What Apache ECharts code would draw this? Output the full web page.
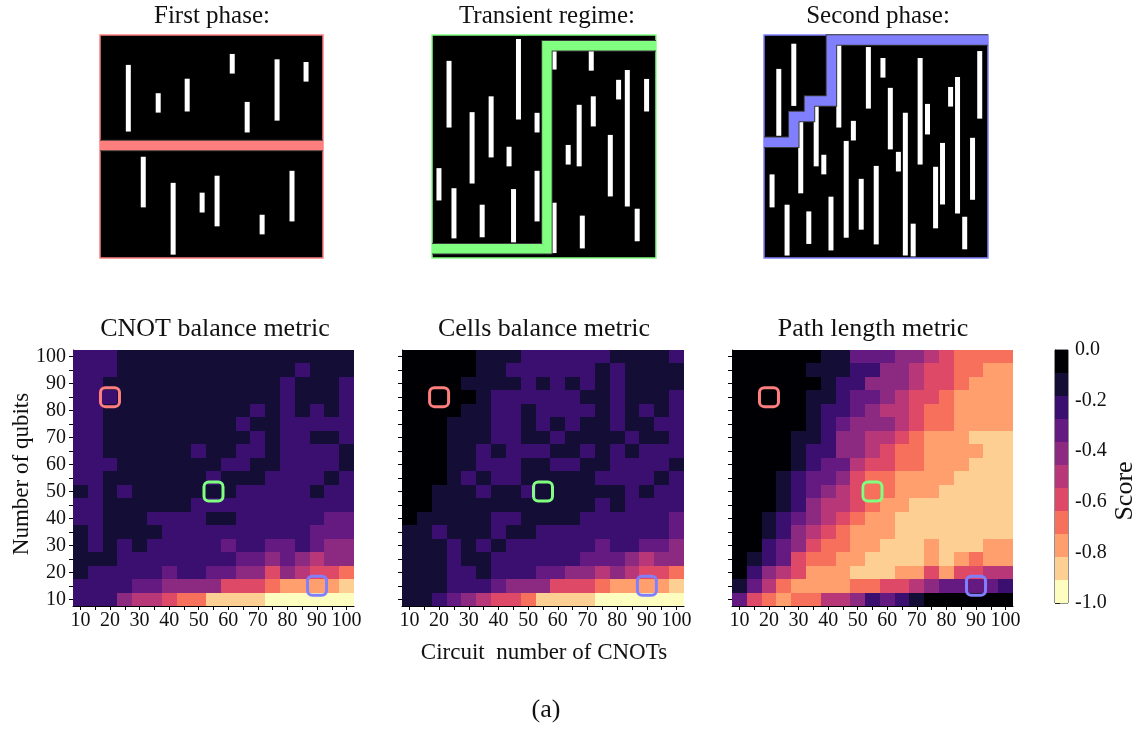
<!DOCTYPE html>
<html>
<head>
<meta charset="utf-8">
<script src="https://cdn.jsdelivr.net/npm/echarts@6/dist/echarts.min.js"></script>
<style>html,body{margin:0;padding:0;background:#fff}#c{width:1141px;height:731px}</style>
</head>
<body>
<div id="c"></div>
<script>
// ---------- DATA ----------
const circuits = ['10','15','20','25','30','35','40','45','50','55','60','65','70','75','80','85','90','95','100'];
const qubits = ['10','15','20','25','30','35','40','45','50','55','60','65','70','75','80','85','90','95','100'];

// Scores; rows listed from 100 qubits (top) down to 10 qubits (bottom), columns = circuits
const cnotBalance = [
[-.23,-.23,-.23,-.14,-.14,-.14,-.14,-.14,-.14,-.14,-.14,-.14,-.14,-.14,-.14,-.14,-.14,-.14,-.14],
[-.23,-.23,-.23,-.14,-.14,-.14,-.14,-.14,-.14,-.14,-.14,-.14,-.14,-.14,-.14,-.23,-.14,-.14,-.14],
[-.23,-.23,-.14,-.14,-.14,-.14,-.14,-.14,-.14,-.14,-.14,-.14,-.14,-.14,-.23,-.14,-.14,-.14,-.23],
[-.23,-.23,-.23,-.14,-.14,-.14,-.14,-.14,-.14,-.14,-.14,-.14,-.14,-.14,-.23,-.14,-.14,-.14,-.23],
[-.23,-.23,-.14,-.14,-.14,-.14,-.14,-.14,-.14,-.14,-.14,-.14,-.23,-.14,-.23,-.14,-.23,-.14,-.23],
[-.23,-.23,-.14,-.14,-.14,-.14,-.14,-.14,-.14,-.14,-.14,-.23,-.14,-.14,-.23,-.23,-.23,-.23,-.23],
[-.23,-.23,-.14,-.14,-.14,-.14,-.14,-.14,-.14,-.14,-.14,-.14,-.23,-.14,-.23,-.23,-.14,-.14,-.23],
[-.23,-.23,-.14,-.14,-.14,-.14,-.14,-.14,-.23,-.14,-.14,-.23,-.23,-.14,-.23,-.23,-.23,-.23,-.14],
[-.23,-.23,-.23,-.14,-.14,-.14,-.14,-.14,-.14,-.14,-.23,-.23,-.14,-.14,-.23,-.23,-.23,-.23,-.14],
[-.23,-.23,-.14,-.14,-.14,-.14,-.14,-.14,-.14,-.23,-.14,-.14,-.14,-.23,-.23,-.23,-.23,-.14,-.23],
[-.14,-.23,-.14,-.23,-.14,-.14,-.14,-.14,-.14,-.14,-.14,-.23,-.23,-.23,-.23,-.23,-.14,-.23,-.23],
[-.23,-.23,-.14,-.14,-.14,-.14,-.14,-.14,-.23,-.23,-.23,-.23,-.23,-.23,-.23,-.23,-.23,-.23,-.23],
[-.23,-.23,-.14,-.14,-.14,-.23,-.23,-.23,-.23,-.14,-.14,-.23,-.23,-.23,-.23,-.23,-.23,-.32,-.32],
[-.14,-.23,-.14,-.14,-.14,-.14,-.23,-.23,-.23,-.23,-.23,-.23,-.23,-.23,-.23,-.23,-.32,-.32,-.32],
[-.14,-.23,-.14,-.23,-.14,-.23,-.23,-.23,-.23,-.23,-.32,-.23,-.23,-.32,-.32,-.23,-.32,-.41,-.41],
[-.14,-.14,-.14,-.23,-.23,-.23,-.23,-.23,-.23,-.23,-.23,-.32,-.32,-.41,-.32,-.41,-.50,-.41,-.41],
[-.14,-.23,-.23,-.23,-.23,-.23,-.32,-.23,-.23,-.32,-.32,-.41,-.41,-.59,-.41,-.50,-.59,-.59,-.68],
[-.23,-.23,-.23,-.23,-.32,-.32,-.41,-.41,-.41,-.41,-.59,-.59,-.59,-.68,-.77,-.77,-.77,-.77,-.86],
[-.23,-.23,-.23,-.41,-.50,-.50,-.59,-.68,-.68,-.86,-.86,-.86,-.86,-.95,-.95,-.95,-.95,-.95,-.95]
];
const cellsBalance = [
[-.05,-.05,-.05,-.05,-.05,-.14,-.14,-.14,-.23,-.23,-.23,-.23,-.23,-.23,-.14,-.14,-.14,-.14,-.23],
[-.05,-.05,-.05,-.05,-.05,-.14,-.14,-.23,-.23,-.23,-.23,-.23,-.23,-.14,-.23,-.14,-.14,-.14,-.14],
[-.05,-.05,-.05,-.05,-.14,-.14,-.14,-.14,-.23,-.14,-.23,-.14,-.23,-.14,-.23,-.14,-.14,-.14,-.14],
[-.05,-.05,-.05,-.05,-.05,-.14,-.23,-.23,-.23,-.23,-.23,-.23,-.14,-.14,-.23,-.14,-.14,-.14,-.23],
[-.05,-.05,-.05,-.05,-.14,-.14,-.23,-.23,-.14,-.23,-.23,-.23,-.23,-.14,-.23,-.14,-.23,-.14,-.23],
[-.05,-.05,-.05,-.14,-.14,-.14,-.23,-.23,-.14,-.23,-.14,-.23,-.14,-.14,-.23,-.14,-.14,-.23,-.23],
[-.05,-.05,-.05,-.14,-.14,-.14,-.23,-.23,-.14,-.14,-.23,-.14,-.14,-.14,-.14,-.23,-.14,-.14,-.23],
[-.05,-.05,-.05,-.14,-.14,-.23,-.14,-.23,-.23,-.23,-.14,-.14,-.23,-.14,-.23,-.14,-.23,-.23,-.23],
[-.05,-.05,-.05,-.14,-.14,-.23,-.23,-.23,-.14,-.14,-.23,-.23,-.14,-.14,-.23,-.23,-.23,-.23,-.14],
[-.05,-.05,-.05,-.14,-.23,-.14,-.23,-.23,-.14,-.14,-.14,-.14,-.14,-.23,-.23,-.23,-.23,-.14,-.23],
[-.05,-.05,-.14,-.14,-.14,-.23,-.14,-.14,-.23,-.14,-.14,-.14,-.14,-.14,-.14,-.23,-.14,-.23,-.23],
[-.05,-.05,-.14,-.14,-.14,-.14,-.14,-.14,-.14,-.14,-.14,-.14,-.14,-.23,-.14,-.23,-.23,-.23,-.23],
[-.05,-.14,-.14,-.14,-.14,-.14,-.23,-.23,-.14,-.14,-.14,-.14,-.23,-.23,-.23,-.23,-.23,-.23,-.32],
[-.14,-.14,-.23,-.14,-.14,-.14,-.23,-.14,-.14,-.23,-.23,-.23,-.23,-.23,-.23,-.23,-.23,-.23,-.32],
[-.14,-.14,-.14,-.23,-.14,-.23,-.14,-.23,-.23,-.23,-.23,-.23,-.23,-.32,-.23,-.23,-.32,-.32,-.41],
[-.14,-.14,-.14,-.23,-.14,-.14,-.23,-.23,-.23,-.23,-.23,-.23,-.32,-.32,-.32,-.41,-.50,-.41,-.41],
[-.14,-.14,-.14,-.23,-.23,-.14,-.23,-.23,-.23,-.32,-.32,-.41,-.41,-.50,-.41,-.50,-.59,-.59,-.68],
[-.14,-.14,-.14,-.23,-.23,-.23,-.32,-.41,-.41,-.41,-.59,-.59,-.59,-.68,-.77,-.77,-.77,-.77,-.86],
[-.14,-.14,-.23,-.32,-.41,-.50,-.59,-.59,-.68,-.86,-.86,-.86,-.86,-.95,-.95,-.95,-.95,-.95,-.95]
];
const pathLength = [
[-.05,-.05,-.05,-.05,-.05,-.05,-.14,-.14,-.32,-.32,-.32,-.41,-.41,-.50,-.59,-.68,-.68,-.68,-.68],
[-.05,-.05,-.05,-.05,-.05,-.14,-.14,-.14,-.23,-.23,-.41,-.41,-.50,-.59,-.59,-.68,-.68,-.77,-.77],
[-.05,-.05,-.05,-.05,-.05,-.05,-.14,-.23,-.23,-.41,-.41,-.41,-.50,-.59,-.59,-.68,-.77,-.77,-.77],
[-.05,-.05,-.05,-.05,-.05,-.14,-.14,-.23,-.32,-.32,-.41,-.50,-.59,-.59,-.68,-.77,-.77,-.77,-.77],
[-.05,-.05,-.05,-.05,-.05,-.14,-.23,-.23,-.32,-.41,-.50,-.50,-.59,-.68,-.68,-.77,-.77,-.77,-.77],
[-.05,-.05,-.05,-.05,-.05,-.14,-.23,-.32,-.41,-.41,-.41,-.50,-.59,-.68,-.68,-.77,-.77,-.77,-.77],
[-.05,-.05,-.05,-.05,-.14,-.14,-.23,-.41,-.41,-.50,-.50,-.59,-.68,-.77,-.77,-.77,-.86,-.86,-.86],
[-.05,-.05,-.05,-.05,-.14,-.23,-.23,-.41,-.41,-.50,-.59,-.68,-.68,-.77,-.77,-.77,-.77,-.86,-.86],
[-.05,-.05,-.05,-.05,-.14,-.23,-.32,-.32,-.50,-.59,-.59,-.68,-.68,-.77,-.77,-.77,-.86,-.86,-.86],
[-.05,-.05,-.05,-.14,-.23,-.32,-.32,-.41,-.59,-.68,-.68,-.77,-.77,-.77,-.77,-.86,-.86,-.86,-.86],
[-.05,-.05,-.05,-.14,-.23,-.32,-.41,-.50,-.59,-.68,-.68,-.77,-.77,-.77,-.86,-.86,-.86,-.86,-.86],
[-.05,-.05,-.05,-.14,-.23,-.41,-.50,-.50,-.59,-.68,-.77,-.77,-.86,-.86,-.86,-.86,-.86,-.86,-.86],
[-.05,-.05,-.14,-.23,-.32,-.41,-.50,-.59,-.68,-.77,-.77,-.86,-.86,-.86,-.86,-.86,-.86,-.86,-.86],
[-.05,-.05,-.14,-.23,-.41,-.50,-.59,-.68,-.77,-.77,-.77,-.86,-.86,-.86,-.86,-.86,-.86,-.86,-.86],
[-.05,-.05,-.23,-.32,-.41,-.59,-.68,-.68,-.77,-.77,-.86,-.86,-.86,-.77,-.86,-.86,-.86,-.77,-.77],
[-.05,-.14,-.23,-.32,-.59,-.68,-.68,-.77,-.77,-.86,-.86,-.86,-.86,-.77,-.86,-.77,-.68,-.77,-.77],
[-.05,-.23,-.41,-.50,-.59,-.77,-.77,-.77,-.86,-.86,-.86,-.77,-.77,-.59,-.77,-.59,-.59,-.50,-.50],
[-.14,-.32,-.50,-.68,-.77,-.77,-.77,-.77,-.68,-.68,-.59,-.59,-.50,-.41,-.32,-.32,-.32,-.32,-.23],
[-.32,-.59,-.68,-.77,-.68,-.68,-.50,-.50,-.41,-.23,-.32,-.23,-.14,-.05,-.05,-.05,-.05,-.05,-.05]
];
const heatTitles = ['CNOT balance metric','Cells balance metric','Path length metric'];

// Highlighted cells (circuit, qubits)
const markerCircuits = ['20','55','90'];
const markerQubits = ['85','50','15'];

// Colour scale: bin edges of the score (0 .. -1)
const binEdges = [0,-0.0909,-0.1818,-0.2727,-0.3636,-0.4545,-0.5455,-0.6364,-0.7273,-0.8182,-0.9091,-1];

// Top panels: vertical gate bars [x, yTop, yBottom] in panel units (0..100, y from top)
const phaseTitles = ['First phase:','Transient regime:','Second phase:'];
const firstBars = [
[12.7,13.4,43.3],[26.1,26.1,34.8],[39.1,19.6,34.3],[59.3,8.5,17.3],[66.0,30.0,43.7],[79.4,10.9,38.4],[92.4,12.1,20.9],
[19.4,54.6,77.3],[32.8,66.3,98.5],[45.8,70.7,79.6],[52.5,63.1,85.8],[72.7,80.6,89.4],[86.1,60.9,83.6]
];
const transientBars = [
[7.6,11.6,41.5],[3.1,59.7,74.2],[9.8,68.7,91.2],[17.9,34.6,66.6],[22.4,76.1,90.7],[26.4,27.5,54.9],[34.4,50.1,58.9],
[36.4,69.1,93.0],[38.6,1.8,37.9],[46.9,34.9,43.7],[46.9,60.9,83.6],[54.5,7.0,15.5],[54.5,75.2,97.8],[71.1,7.0,16.0],
[60.8,49.3,58.1],[65.7,31.3,58.9],[72.0,27.5,41.0],[67.1,81.0,95.7],[79.6,44.8,72.4],[83.3,20.1,28.9],[87.2,15.7,76.9],
[95.8,19.7,34.3],[91.6,77.9,92.5]
];
const secondBars = [
[6.6,15.2,45.2],[13.3,3.9,31.8],[3.6,62.5,77.3],[10.3,76.1,98.9],[16.4,39.0,71.0],[20.0,79.1,93.7],[23.3,31.8,58.9],
[26.7,53.7,62.5],[29.9,72.5,96.6],[33.4,4.5,41.5],[36.7,47.5,90.9],[39.9,38.5,47.3],[43.4,64.5,87.3],[46.6,5.4,33.0],
[50.1,58.7,93.9],[53.1,10.3,19.1],[56.4,23.7,51.3],[60.0,52.4,61.2],[63.1,34.9,98.9],[66.6,84.6,99.3],[69.7,10.3,58.1],
[73.0,30.9,44.6],[76.6,59.1,86.7],[79.7,48.4,76.0],[83.3,23.3,32.1],[86.4,18.8,80.0],[89.6,81.5,96.1],[93.1,46.1,73.9],
[96.3,7.2,37.5]
];
// Cut paths [x, y] in panel units
const firstPath = [[0,49.5],[100,49.5]];
const transientPath = [[0,95.8],[51.3,95.8],[51.3,4.8],[100,4.8]];
const secondPath = [[0,48.1],[13.3,48.1],[13.3,36.6],[20.3,36.6],[20.3,29.6],[30.1,29.6],[30.1,2.2],[100,2.2]];

// ---------- STYLE / LAYOUT ----------
const FONT = '"Liberation Serif","Times New Roman",serif';
const magma = ['#000004','#140e36','#3b0f70','#641a80','#8c2981','#b73779','#de4968','#f7705c','#fe9f6d','#fecf92','#fcfdbf'];
const markerColors = ['#ff7f7f','#80ff80','#8080ff'];
const heatGrids = [
  {left:73, top:350, width:281, height:256},
  {left:402, top:350, width:282, height:256},
  {left:732, top:350, width:281, height:256}
];
const topGrids = [
  {left:100, top:35, width:223, height:223},
  {left:432, top:35, width:224, height:223},
  {left:764, top:35, width:224, height:223}
];
const cbGrid = {left:1055, top:350, width:13, height:253};

const chart = echarts.init(document.getElementById('c'), null, {renderer:'canvas'});

const grids = [], xAxes = [], yAxes = [], series = [], graphics = [];

const heatData = [cnotBalance, cellsBalance, pathLength];
heatData.forEach((mat, k) => {
  grids.push(Object.assign({containLabel:false}, heatGrids[k]));
  xAxes.push({
    type:'category', gridIndex:k, data:circuits,
    axisLine:{show:true, lineStyle:{color:'#000', width:1}},
    axisTick:{show:true, interval:0, alignWithLabel:true, length:4, lineStyle:{color:'#000'}},
    axisLabel:{interval:1, margin:5, color:'#111', fontFamily:FONT, fontSize:20},
    splitLine:{show:false}
  });
  yAxes.push({
    type:'category', gridIndex:k, data:qubits,
    axisLine:{show:true, lineStyle:{color:'#000', width:1}},
    axisTick:{show:true, interval:0, alignWithLabel:true, length:4, lineStyle:{color:'#000'}},
    axisLabel:{show:k===0, interval:1, margin:7, color:'#111', fontFamily:FONT, fontSize:20},
    splitLine:{show:false}
  });
  const data = [];
  mat.forEach((row, r) => {
    const yi = qubits.length - 1 - r;
    row.forEach((v, c) => data.push([c, yi, v]));
  });
  series.push({
    type:'custom', xAxisIndex:k, yAxisIndex:k, data:data, silent:true, encode:{x:0, y:1},
    renderItem:(params, api) => {
      const c = api.coord([api.value(0), api.value(1)]);
      const s = api.size([1, 1]);
      const x0 = Math.round(c[0] - s[0]/2), x1 = Math.round(c[0] + s[0]/2);
      const y0 = Math.round(c[1] - s[1]/2), y1 = Math.round(c[1] + s[1]/2);
      return {type:'rect', shape:{x:x0, y:y0, width:x1-x0, height:y1-y0}, style:{fill:api.visual('color')}};
    }
  });
});

// markers
heatData.forEach((mat, k) => {
  series.push({
    type:'scatter', xAxisIndex:k, yAxisIndex:k, symbol:'roundRect', symbolSize:19, silent:true, z:5,
    data: markerCircuits.map((c, i) => ({value:[c, markerQubits[i]], itemStyle:{color:'rgba(0,0,0,0)', opacity:1, borderColor:markerColors[i], borderWidth:3}}))
  });
});

// colour bar
grids.push(Object.assign({show:true, borderColor:'#222', borderWidth:1, backgroundColor:'transparent'}, cbGrid));
xAxes.push({type:'value', gridIndex:3, min:0, max:1, show:false});
yAxes.push({
  type:'value', gridIndex:3, min:-1, max:0, interval:0.2, position:'right',
  axisLine:{show:true, lineStyle:{color:'#222'}},
  axisTick:{show:true, length:5, lineStyle:{color:'#222'}},
  axisLabel:{margin:7, color:'#111', fontFamily:FONT, fontSize:20, formatter:v => v.toFixed(1)},
  splitLine:{show:false}
});
series.push({
  type:'custom', xAxisIndex:3, yAxisIndex:3, silent:true,
  data: magma.map((col, i) => [i, binEdges[i+1], binEdges[i]]),
  encode:{x:0, y:[1,2]},
  renderItem:(params, api) => {
    const i = api.value(0);
    const p0 = api.coord([0, api.value(2)]);
    const p1 = api.coord([1, api.value(1)]);
    const y0 = Math.round(p0[1]), y1 = Math.round(p1[1]);
    return {type:'rect', shape:{x:p0[0], y:y0, width:p1[0]-p0[0], height:y1-y0}, style:{fill:magma[i]}};
  }
});

// top panels
const barsSets = [firstBars, transientBars, secondBars];
const paths = [firstPath, transientPath, secondPath];
barsSets.forEach((bars, k) => {
  const gi = 4 + k;
  grids.push(Object.assign({show:true, backgroundColor:'#000', borderColor:markerColors[k], borderWidth:1.5}, topGrids[k]));
  xAxes.push({type:'value', gridIndex:gi, min:0, max:100, show:false});
  yAxes.push({type:'value', gridIndex:gi, min:0, max:100, inverse:true, show:false});
  series.push({
    type:'custom', xAxisIndex:gi, yAxisIndex:gi, silent:true, data:bars, encode:{x:0, y:[1,2]},
    renderItem:(params, api) => {
      const p0 = api.coord([api.value(0), api.value(1)]);
      const p1 = api.coord([api.value(0), api.value(2)]);
      return {type:'rect', shape:{x:p0[0]-2.5, y:p0[1], width:5, height:p1[1]-p0[1]}, style:{fill:'#fff'}};
    }
  });
  series.push({
    type:'line', xAxisIndex:gi, yAxisIndex:gi, data:paths[k], showSymbol:false, silent:true, z:3,
    lineStyle:{color:'#3a3a3a', width:11.5, join:'miter', cap:'butt'}, animation:false
  });
  series.push({
    type:'line', xAxisIndex:gi, yAxisIndex:gi, data:paths[k], showSymbol:false, silent:true, z:4,
    lineStyle:{color:markerColors[k], width:9.5, join:'miter', cap:'butt'}, animation:false
  });
});

// texts
const phaseCenters = [212, 547, 878];
phaseTitles.forEach((t, k) => graphics.push({type:'text', x:phaseCenters[k], y:16, style:{text:t, textAlign:'center', textVerticalAlign:'middle', font:'25px ' + FONT, fill:'#111'}}));
const heatCenters = [215, 544, 873];
heatTitles.forEach((t, k) => graphics.push({type:'text', x:heatCenters[k], y:329, style:{text:t, textAlign:'center', textVerticalAlign:'middle', font:'26px ' + FONT, fill:'#111'}}));
graphics.push({type:'text', x:22, y:474, rotation:Math.PI/2, style:{text:'Number of qubits', textAlign:'center', textVerticalAlign:'middle', font:'23px ' + FONT, fill:'#111'}});
graphics.push({type:'text', x:544, y:653, style:{text:'Circuit  number of CNOTs', textAlign:'center', textVerticalAlign:'middle', font:'23px ' + FONT, fill:'#111'}});
graphics.push({type:'text', x:546, y:710, style:{text:'(a)', textAlign:'center', textVerticalAlign:'middle', font:'26px ' + FONT, fill:'#111'}});
graphics.push({type:'text', x:1125, y:491, rotation:Math.PI/2, style:{text:'Score', textAlign:'center', textVerticalAlign:'middle', font:'26px ' + FONT, fill:'#111'}});

chart.setOption({
  animation:false,
  backgroundColor:'#fff',
  textStyle:{fontFamily:FONT},
  grid:grids, xAxis:xAxes, yAxis:yAxes,
  visualMap:{
    type:'piecewise', show:false, seriesIndex:[0,1,2], dimension:2,
    pieces: magma.map((col, i) => ({gt:binEdges[i+1], lte:binEdges[i], color:col}))
  },
  series:series,
  graphic:graphics
});
</script>
</body>
</html>
